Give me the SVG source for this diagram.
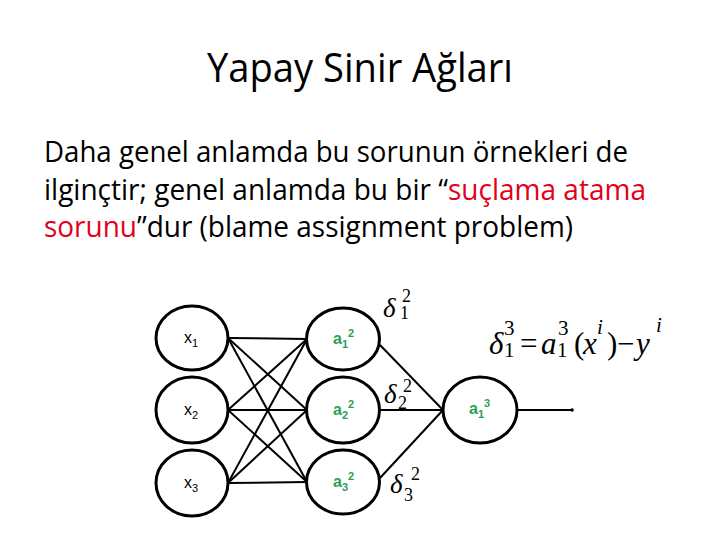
<svg xmlns="http://www.w3.org/2000/svg" width="720" height="540" viewBox="0 0 720 540">
<style>
.title{font-family:"Open Sans","Noto Sans",sans-serif;font-size:40px;fill:#000}
.body{font-family:"Open Sans","Noto Sans",sans-serif;font-size:29px;fill:#000}
.red{fill:#e3001b}
.node{fill:#fff;stroke:#000;stroke-width:3}
.edge{stroke:#000;stroke-width:2;fill:none}
.lx{font-family:"Liberation Sans",Arial,sans-serif;font-size:16px;fill:#000}
.la{font-family:"Liberation Sans",Arial,sans-serif;font-size:16px;font-weight:bold;fill:#27a05a}
.sm{font-size:11px}
.m{font-family:"Liberation Serif","Times New Roman",serif;font-size:31px;fill:#000}
.mi{font-style:italic}
.ms{font-size:21px}
.d{font-family:"Liberation Serif","Times New Roman",serif;font-size:27px;fill:#000}
.ds{font-size:18px}
</style>
<rect width="720" height="540" fill="#fff"/>
<text class="title" x="360" y="82" text-anchor="middle" textLength="306" lengthAdjust="spacingAndGlyphs">Yapay Sinir Ağları</text>
<text class="body" x="44" y="162" textLength="584" lengthAdjust="spacingAndGlyphs">Daha genel anlamda bu sorunun örnekleri de</text>
<text class="body" x="44" y="200" textLength="602" lengthAdjust="spacingAndGlyphs">ilginçtir; genel anlamda bu bir “<tspan class="red">suçlama atama</tspan></text>
<text class="body" x="44" y="237" textLength="529" lengthAdjust="spacingAndGlyphs"><tspan class="red">sorunu</tspan>”dur (blame assignment problem)</text>
<g id="connectors">
<line class="edge" x1="228" y1="338" x2="307" y2="339"/>
<line class="edge" x1="228" y1="338" x2="307" y2="410"/>
<line class="edge" x1="228" y1="338" x2="307" y2="482"/>
<line class="edge" x1="228" y1="410" x2="307" y2="339"/>
<line class="edge" x1="228" y1="410" x2="307" y2="410"/>
<line class="edge" x1="228" y1="410" x2="307" y2="482"/>
<line class="edge" x1="228" y1="483" x2="307" y2="339"/>
<line class="edge" x1="228" y1="483" x2="307" y2="410"/>
<line class="edge" x1="228" y1="483" x2="307" y2="482"/>
<line class="edge" x1="380" y1="345" x2="443" y2="410"/>
<line class="edge" x1="380" y1="410" x2="443" y2="410"/>
<line class="edge" x1="380" y1="478" x2="443" y2="410"/>
<line class="edge" x1="517" y1="410" x2="572" y2="410"/>
<circle cx="572" cy="410" r="1.8" fill="#000"/>
</g>
<g id="x1"><ellipse class="node" cx="192" cy="338" rx="36" ry="32"/><text class="lx" x="184" y="343">x<tspan class="sm" dy="4">1</tspan></text></g>
<g id="x2"><ellipse class="node" cx="192" cy="410" rx="36" ry="33"/><text class="lx" x="184" y="415">x<tspan class="sm" dy="4">2</tspan></text></g>
<g id="x3"><ellipse class="node" cx="192" cy="483" rx="36" ry="33"/><text class="lx" x="184" y="488">x<tspan class="sm" dy="4">3</tspan></text></g>
<g id="a12"><ellipse class="node" cx="343" cy="339" rx="36.5" ry="31"/><text class="la" x="333" y="344">a<tspan class="sm" dy="4">1</tspan><tspan class="sm" dy="-11">2</tspan></text></g>
<g id="a22"><ellipse class="node" cx="343" cy="410" rx="36.5" ry="33"/><text class="la" x="333" y="415">a<tspan class="sm" dy="4">2</tspan><tspan class="sm" dy="-11">2</tspan></text></g>
<g id="a32"><ellipse class="node" cx="343" cy="482" rx="36.5" ry="32"/><text class="la" x="333" y="487">a<tspan class="sm" dy="4">3</tspan><tspan class="sm" dy="-11">2</tspan></text></g>
<g id="a13"><ellipse class="node" cx="480" cy="410" rx="37" ry="33"/><text class="la" x="469" y="414">a<tspan class="sm" dy="4">1</tspan><tspan class="sm" dy="-11">3</tspan></text></g>
<g id="deltas">
<text class="d"><tspan class="mi" x="383" y="317">δ</tspan><tspan class="ds" x="400" y="319">1</tspan><tspan class="ds" x="402" y="302">2</tspan></text>
<text class="d"><tspan class="mi" x="384" y="403">δ</tspan><tspan class="ds" x="398" y="409">2</tspan><tspan class="ds" x="403" y="392">2</tspan></text>
<text class="d"><tspan class="mi" x="390" y="493">δ</tspan><tspan class="ds" x="404" y="501">3</tspan><tspan class="ds" x="411" y="480">2</tspan></text>
</g>
<g id="equation">
<text class="m"><tspan class="mi" x="489" y="354">δ</tspan><tspan class="ms" x="504" y="335">3</tspan><tspan class="ms" x="504" y="357">1</tspan><tspan x="520" y="354">=</tspan><tspan class="mi" x="541" y="354">a</tspan><tspan class="ms" x="558" y="335">3</tspan><tspan class="ms" x="557" y="357">1</tspan><tspan x="574" y="354">(</tspan><tspan class="mi" x="583" y="354">x</tspan><tspan class="ms mi" x="597" y="334">i</tspan><tspan x="607" y="354">)</tspan><tspan x="617" y="354">−</tspan><tspan class="mi" x="636" y="354">y</tspan><tspan class="ms mi" x="656" y="332">i</tspan></text>
</g>
</svg>
